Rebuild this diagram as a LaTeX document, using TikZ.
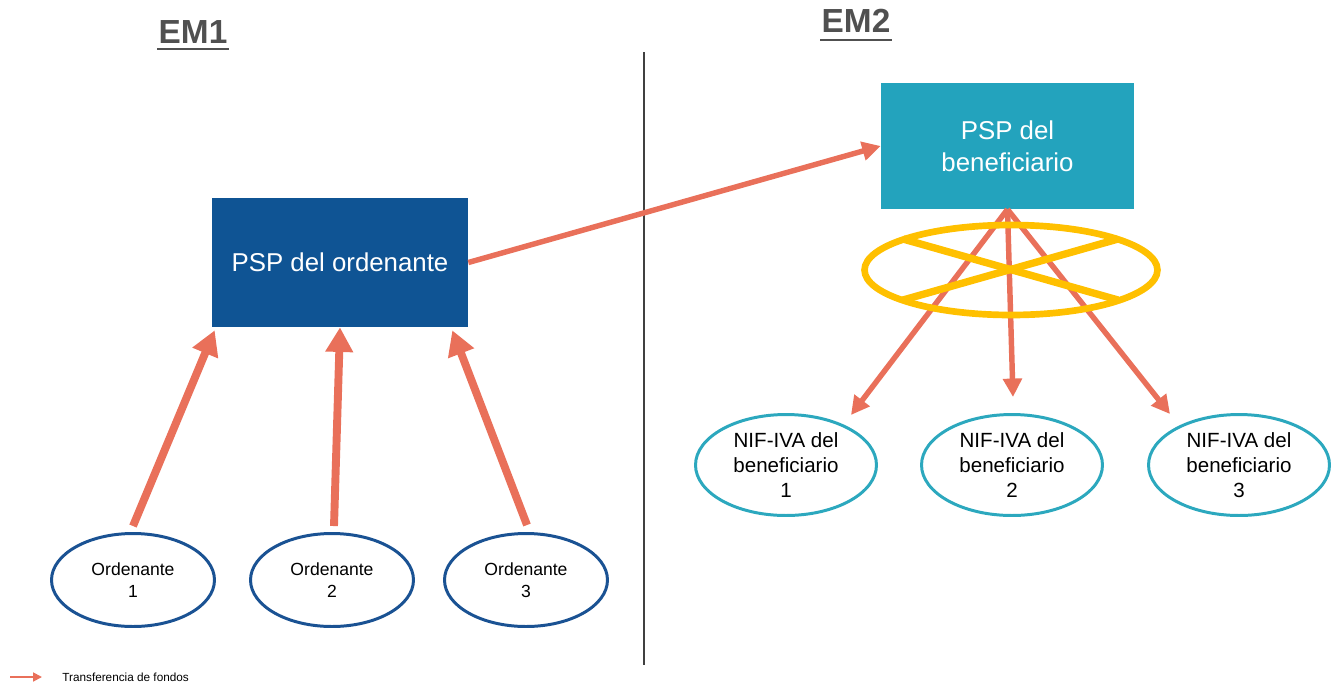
\documentclass[tikz,border=0pt]{standalone}
\usepackage{fontspec}
\setmainfont{Liberation Sans}
\usetikzlibrary{arrows.meta,shapes.geometric,calc}
\definecolor{flow}{HTML}{E9705A}
\definecolor{pspblue}{HTML}{0F5494}
\definecolor{pspteal}{HTML}{23A3BD}
\definecolor{ordline}{HTML}{1A5293}
\definecolor{nifline}{HTML}{2CA8BE}
\definecolor{gold}{HTML}{FFC000}
\definecolor{headgrey}{HTML}{505050}
\definecolor{divgrey}{HTML}{404040}
\begin{document}
\begin{tikzpicture}[x=0.02cm,y=-0.02cm,
  heading/.style={font=\fontsize{19pt}{22pt}\selectfont\bfseries, text=headgrey, inner sep=0pt, anchor=base},
  headrule/.style={draw=headgrey, line width=1.7pt},
  pspbox/.style={rectangle, inner sep=0pt, text=white, align=center,
    font=\fontsize{14.7pt}{18.1pt}\selectfont},
  ordnode/.style={ellipse, draw=ordline, line width=1.7pt, inner sep=0pt,
    minimum width=3.26cm, minimum height=1.86cm, align=center,
    font=\fontsize{10pt}{12.5pt}\selectfont},
  nifnode/.style={ellipse, draw=nifline, line width=1.7pt, inner sep=0pt,
    minimum width=3.62cm, minimum height=2.02cm, align=center,
    font=\fontsize{11.7pt}{14.2pt}\selectfont},
  flowthick/.style={draw=flow, line width=4.5pt, -{Triangle[length=14pt,width=15pt]}},
  flowthin/.style={draw=flow, line width=3.1pt, -{Triangle[length=10.5pt,width=10.5pt]}},
  flowlegend/.style={draw=flow, line width=1.1pt, -{Triangle[length=5pt,width=5pt]}},
  banring/.style={ellipse, draw=gold, line width=3.8pt, inner sep=0pt,
    minimum width=5.86cm, minimum height=1.8cm},
  banline/.style={draw=gold, line width=4.2pt}
]
\useasboundingbox (0,0) rectangle (1333,684);

% headings
\node[heading] (em1) at (193,43) {EM1};
\draw[headrule] ($(em1.base west)+(-1,6)$) -- ($(em1.base east)+(1,6)$);
\node[heading] (em2) at (856,32) {EM2};
\draw[headrule] ($(em2.base west)+(-1,8)$) -- ($(em2.base east)+(1,8)$);

% divider between the two member states
\coordinate (divtop) at (644,52);
\coordinate (divbot) at (644,665);
\draw[divgrey, line width=1.3pt] (divtop) -- (divbot);

% payment service providers
\node[pspbox, fill=pspblue, minimum width=5.12cm, minimum height=2.58cm] (psp1) at (340,262.5) {PSP del ordenante};
\node[pspbox, fill=pspteal, minimum width=5.06cm, minimum height=2.52cm] (psp2) at (1007.5,146) {PSP del\\beneficiario};

% payers
\node[ordnode] (o1) at (133,580) {Ordenante\\1};
\node[ordnode] (o2) at (332,580) {Ordenante\\2};
\node[ordnode] (o3) at (526,580) {Ordenante\\3};

% payee VAT numbers
\node[nifnode] (n1) at (786,465) {NIF-IVA del\\beneficiario\\1};
\node[nifnode] (n2) at (1012,465) {NIF-IVA del\\beneficiario\\2};
\node[nifnode] (n3) at (1239,465) {NIF-IVA del\\beneficiario\\3};

% transfers from payers to their PSP
\draw[flowthick] ($(o1.north)+(0,-6)$) -- ($(psp1.south west)+(3,3)$);
\draw[flowthick] ($(o2.north)+(2,-6)$) -- (psp1.south);
\draw[flowthick] ($(o3.north)+(1,-7)$) -- ($(psp1.south east)+(-16,3)$);

% cross-border transfer
\draw[flowthin] (psp1.east) -- (psp2.west);

% distribution to the payee's VAT numbers
\draw[flowthin] (psp2.south) -- ($(n1.center)+(65,-50)$);
\draw[flowthin] (psp2.south) -- ($(n2.north)+(1,-16)$);
\draw[flowthin] (psp2.south) -- ($(n3.center)+(-69,-51)$);

% crossed-out ring
\node[banring] (ban) at (1011,270) {};
\draw[banline] ($(ban.center)+(-108,-31)$) -- ($(ban.center)+(107,30)$);
\draw[banline] ($(ban.center)+(-108,30)$) -- ($(ban.center)+(107,-31)$);

% legend
\coordinate (lgstart) at (10,677);
\coordinate (lgend) at (42,677);
\draw[flowlegend] (lgstart) -- (lgend);
\node[anchor=west, inner sep=0pt, font=\fontsize{6.7pt}{8pt}\selectfont] (lgtext) at (62,677) {Transferencia de fondos};
\end{tikzpicture}
\end{document}
